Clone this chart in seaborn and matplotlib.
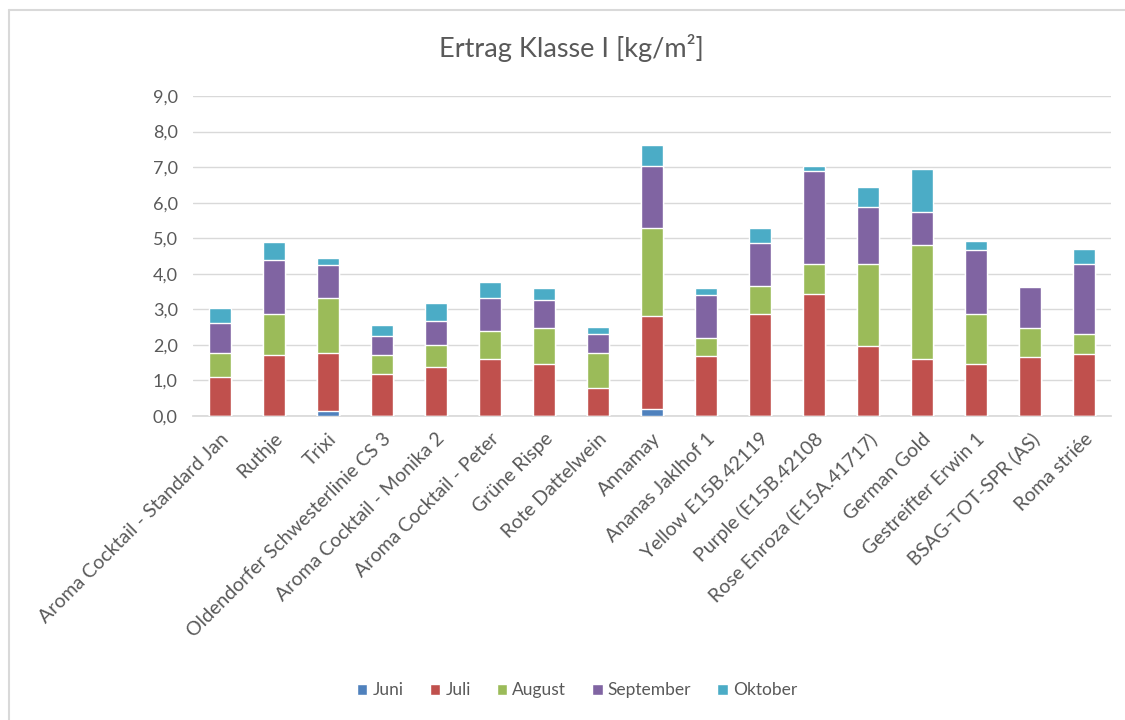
import numpy as np
import pandas as pd
import seaborn as sns
import matplotlib.pyplot as plt
from matplotlib.patches import Patch
from matplotlib.lines import Line2D

# data
sorten = ["Aroma Cocktail - Standard Jan", "Ruthje", "Trixi",
          "Oldendorfer Schwesterlinie CS 3", "Aroma Cocktail - Monika 2",
          "Aroma Cocktail - Peter", "Grüne Rispe", "Rote Dattelwein",
          "Annamay", "Ananas Jaklhof 1", "Yellow E15B.42119",
          "Purple (E15B.42108", "Rose Enroza (E15A.41717)", "German Gold",
          "Gestreifter Erwin 1", "BSAG-TOT-SPR (AS)", "Roma striée"]
juni = [0, 0, 0.14, 0, 0, 0, 0, 0, 0.19, 0, 0, 0, 0, 0, 0, 0, 0]
juli = [1.10, 1.71, 1.62, 1.19, 1.38, 1.59, 1.45, 0.79, 2.63, 1.68, 2.87,
        3.44, 1.98, 1.61, 1.45, 1.66, 1.73]
august = [0.68, 1.17, 1.57, 0.52, 0.62, 0.81, 1.03, 0.99, 2.46, 0.52, 0.79,
          0.83, 2.29, 3.20, 1.42, 0.82, 0.59]
september = [0.84, 1.50, 0.91, 0.53, 0.67, 0.92, 0.79, 0.53, 1.76, 1.21,
             1.20, 2.62, 1.62, 0.94, 1.80, 1.16, 1.95]
oktober = [0.43, 0.51, 0.21, 0.31, 0.52, 0.44, 0.33, 0.19, 0.58, 0.19, 0.42,
           0.15, 0.56, 1.21, 0.26, 0.0, 0.42]

monate = ["Juni", "Juli", "August", "September", "Oktober"]
farben = ["#4F81BD", "#C0504D", "#9BBB59", "#8064A2", "#4BACC6"]

df = pd.DataFrame({"Sorte": sorten, "Juni": juni, "Juli": juli,
                   "August": august, "September": september,
                   "Oktober": oktober})
cum = df[monate].cumsum(axis=1)
cum["Sorte"] = sorten

sns.set_theme(style="white")
plt.rcParams["font.family"] = ["Lato", "DejaVu Sans"]
grau = "#595959"

fig = plt.figure(figsize=(11.25, 7.2), dpi=100)
ax = fig.add_axes([0.1716, 0.4222, 0.8160, 0.4445])

# stacked bars: draw cumulative totals from top month downwards
for m, c in reversed(list(zip(monate, farben))):
    sns.barplot(data=cum, x="Sorte", y=m, color=c, saturation=1,
                width=0.4, order=sorten, ax=ax, zorder=3)

ax.set_ylim(0, 9)
ax.set_yticks(np.arange(0, 9.1, 1))
ax.set_yticklabels([f"{v:.1f}".replace(".", ",") for v in np.arange(0, 9.1, 1)],
                   color=grau, fontsize=13)
ax.set_xlabel("")
ax.set_ylabel("")
ax.set_xticks(range(len(sorten)))
ax.set_xticklabels(sorten, rotation=45, ha="right", rotation_mode="anchor",
                   color=grau, fontsize=14)
ax.tick_params(axis="y", length=0, pad=11)
ax.tick_params(axis="x", length=0, pad=10)
ax.grid(axis="y", color="#D9D9D9", linewidth=1, zorder=0)
ax.set_axisbelow(True)
for s in ["top", "right", "left"]:
    ax.spines[s].set_visible(False)
ax.spines["bottom"].set_color("#D9D9D9")

fig.text(0.508, 0.933, "Ertrag Klasse I [kg/m²]", ha="center", va="center",
         fontsize=19.5, color=grau)

handles = [Patch(facecolor=c, label=m) for m, c in zip(monate, farben)]
fig.legend(handles=handles, loc="center", bbox_to_anchor=(0.513, 0.041),
           ncol=5, frameon=False, fontsize=12.5, handlelength=0.6,
           handleheight=0.6, handletextpad=0.3, columnspacing=1.5,
           labelcolor=grau)

# chart frame (only left and top edges are visible in the screenshot)
fig.add_artist(Line2D([0.0076, 0.0076], [0, 0.986], color="#D9D9D9", lw=1.5,
                      transform=fig.transFigure))
fig.add_artist(Line2D([0.0076, 1], [0.986, 0.986], color="#D9D9D9", lw=1.5,
                      transform=fig.transFigure))

fig.savefig("out.png", dpi=100, facecolor="white")
